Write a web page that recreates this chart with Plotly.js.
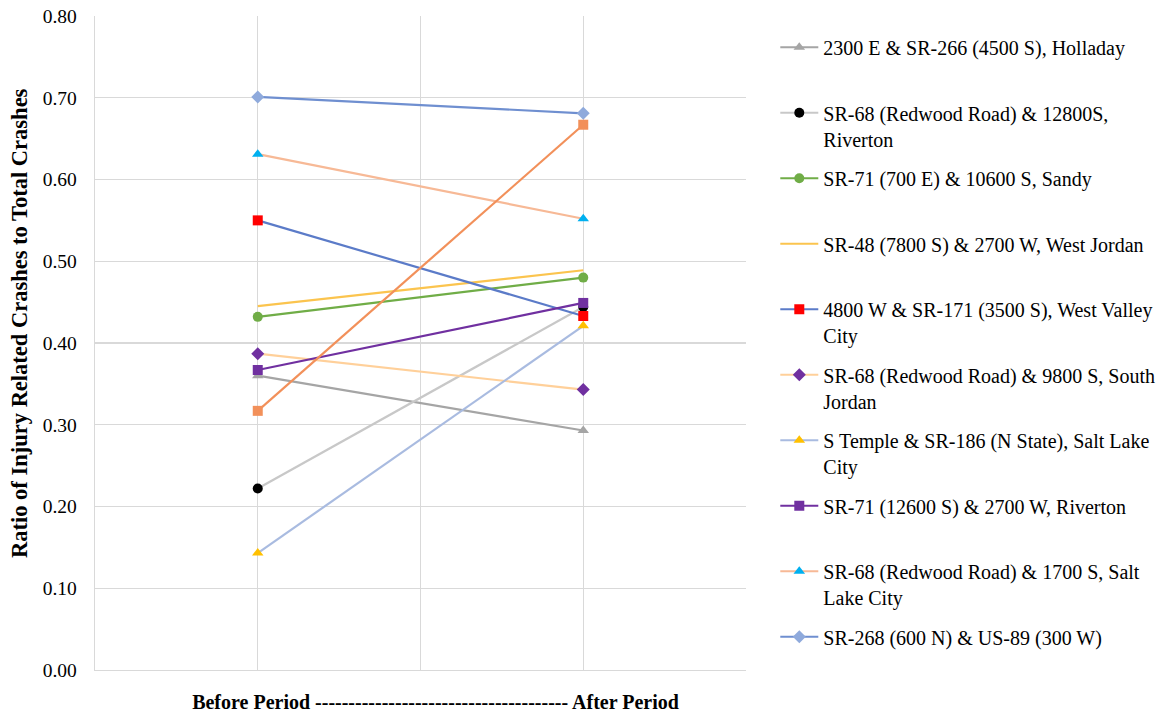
<!DOCTYPE html>
<html>
<head>
<meta charset="utf-8">
<script src="https://cdn.plot.ly/plotly-3.0.1.min.js"></script>
<style>html,body{margin:0;padding:0;background:#fff;}#chart{width:1172px;height:715px;}</style>
</head>
<body>
<div id="chart"></div>
<script>
// Data
var periodX = [1, 3];
var seriesNames = [
  "2300 E & SR-266 (4500 S), Holladay<br>&nbsp;",
  "SR-68 (Redwood Road) & 12800S,<br>Riverton",
  "SR-71 (700 E) & 10600 S, Sandy<br>&nbsp;",
  "SR-48 (7800 S) & 2700 W, West Jordan<br>&nbsp;",
  "4800 W & SR-171 (3500 S), West Valley<br>City",
  "SR-68 (Redwood Road) & 9800 S, South<br>Jordan",
  "S Temple & SR-186 (N State), Salt Lake<br>City",
  "SR-71 (12600 S) & 2700 W, Riverton<br>&nbsp;",
  "SR-68 (Redwood Road) & 1700 S, Salt<br>Lake City",
  "SR-268 (600 N) & US-89 (300 W)<br>&nbsp;",
  "Unlabelled series"
];
var beforeValues = [0.360, 0.222, 0.432, 0.445, 0.550, 0.387, 0.143, 0.367, 0.631, 0.701, 0.317];
var afterValues  = [0.293, 0.444, 0.480, 0.489, 0.433, 0.343, 0.421, 0.449, 0.552, 0.681, 0.667];
var lineColors   = ["#A5A5A5", "#C8C8C8", "#70AD47", "#FBC44E", "#5B7BC8", "#FFD09A", "#A9BBE0", "#7030A0", "#F7B996", "#6F8FD0", "#F2905A"];
var markerColors = ["#A5A5A5", "#000000", "#70AD47", "#FBC44E", "#FF0000", "#7030A0", "#FFC000", "#7030A0", "#00B0F0", "#8FAADC", "#F2905A"];
var markerSymbols = ["triangle-up", "circle", "circle", "circle", "square", "diamond", "triangle-up", "square", "triangle-up", "diamond", "square"];
var showMarker = [true, true, true, false, true, true, true, true, true, true, true];
var inLegend = [true, true, true, true, true, true, true, true, true, true, false];
var xTitle = "&nbsp;&nbsp;&nbsp;&nbsp;&nbsp;&nbsp;Before Period -------------------------------------- After Period";
var yTitle = "&nbsp;&nbsp;&nbsp;&nbsp;&nbsp;&nbsp;&nbsp;Ratio of Injury Related Crashes to Total Crashes";

var traces = seriesNames.map(function (n, i) {
  return {
    type: "scatter",
    mode: showMarker[i] ? "lines+markers" : "lines",
    x: periodX,
    y: [beforeValues[i], afterValues[i]],
    name: n,
    legendgroup: "g" + i,
    showlegend: inLegend[i],
    line: {color: lineColors[i], width: 2.2},
    marker: {color: markerColors[i], symbol: markerSymbols[i], size: 10},
    hoverinfo: "y+name"
  };
});

var font = '"Liberation Serif", serif';
var layout = {
  width: 1172, height: 715,
  margin: {l: 95, r: 424, t: 16, b: 45},
  paper_bgcolor: "#fff", plot_bgcolor: "#fff",
  font: {family: font, color: "#000", size: 20},
  showlegend: true,
  legend: {
    x: 1.045, y: 0.982, xanchor: "left", yanchor: "top",
    valign: "top",
    itemwidth: 38,
    maxheight: 710,
    font: {family: font, size: 20, color: "#000"},
    tracegroupgap: 10.5,
    bgcolor: "rgba(0,0,0,0)"
  },
  xaxis: {
    range: [0, 4], dtick: 1, tick0: 0,
    showticklabels: false, ticks: "",
    showgrid: true, gridcolor: "#D9D9D9", gridwidth: 1.3,
    zeroline: false, showline: true, linecolor: "#D9D9D9", linewidth: 1.3, mirror: false,
    fixedrange: true,
    title: {text: xTitle, font: {family: font, size: 20, color: "#000", weight: "bold"}, standoff: 24}
  },
  yaxis: {
    range: [0, 0.8], dtick: 0.1, tick0: 0, tickformat: ".2f",
    tickfont: {family: font, size: 19.5, color: "#000"},
    ticks: "", ticklen: 0, ticklabelstandoff: 13,
    showgrid: true, gridcolor: "#D9D9D9", gridwidth: 1.3,
    zeroline: false, showline: true, linecolor: "#D9D9D9", linewidth: 1.3,
    fixedrange: true,
    automargin: false,
    title: {text: yTitle, font: {family: font, size: 22.5, color: "#000", weight: "bold"}, standoff: 8}
  }
};
Plotly.newPlot("chart", traces, layout, {displayModeBar: false, staticPlot: true});
</script>
</body>
</html>
